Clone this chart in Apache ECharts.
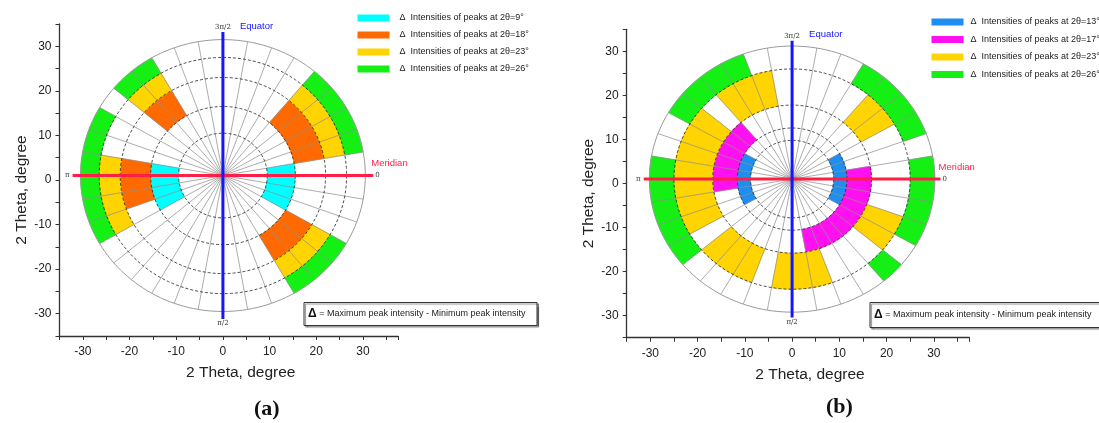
<!DOCTYPE html>
<html><head><meta charset="utf-8">
<script src="https://cdn.jsdelivr.net/npm/echarts@6/dist/echarts.min.js"></script>
<style>html,body{margin:0;padding:0;background:#fff}#c{width:1099px;height:423px}</style>
</head><body><div id="c"></div>
<script>
// ---------------- data ----------------
const axisTickLabels = [-30, -20, -10, 0, 10, 20, 30];
// ring radii (2θ, degree) bounding the four bands
const ringsA = [9.5, 15.5, 22, 26.5, 30.5];
const ringsB = [8.8, 11.6, 16.8, 25, 30.2];
// legend names
const namesA = ['Δ  Intensities of peaks at 2θ=9°', 'Δ  Intensities of peaks at 2θ=18°',
                'Δ  Intensities of peaks at 2θ=23°', 'Δ  Intensities of peaks at 2θ=26°'];
const namesB = ['Δ  Intensities of peaks at 2θ=13°', 'Δ  Intensities of peaks at 2θ=17°',
                'Δ  Intensities of peaks at 2θ=23°', 'Δ  Intensities of peaks at 2θ=26°'];
// start angle (deg, clockwise from meridian, π/2 at bottom) of each filled 10° cell
const cellsA9  = [150, 160, 170, 180, 350, 0, 10, 20];
const cellsA18 = [220, 230, 160, 170, 180, 310, 320, 330, 340, 30, 40, 50];
const cellsA23 = [220, 230, 150, 160, 170, 180, 310, 320, 330, 340, 30, 40, 50];
const cellsA26 = [220, 230, 150, 160, 170, 180, 190, 200, 310, 320, 330, 340, 30, 40, 50];
const cellsB13 = [150, 160, 170, 180, 190, 200, 330, 340, 350, 0, 10, 20];
const cellsB17 = [170, 180, 190, 200, 210, 220, 350, 0, 10, 20, 30, 40, 50, 60, 70];
const cellsB23 = [230, 240, 250, 150, 160, 170, 180, 190, 200, 210, 110, 120, 130, 70, 80, 90, 20, 30, 310, 320];
const cellsB26 = [210, 220, 230, 240, 140, 150, 160, 170, 180, 350, 0, 10, 20, 300, 310, 320, 330, 40];
const angleLabels = ['3π/2', 'π/2', 'π', '0'];
const equatorText = 'Equator', meridianText = 'Meridian';
const noteText = ' = Maximum peak intensity - Minimum peak intensity';
// ---------------------------------------

const colorsA = ['#00FFFF', '#FF6A00', '#FFD400', '#14F014'];
const colorsB = ['#1E8FF0', '#FF10F0', '#FFD400', '#14F014'];
const CX = 0, CY = 1;
const FONT = 'Liberation Sans, Arial, sans-serif';
const SMALLFONT = 'Liberation Sans, Arial, sans-serif';

function polarPt(r, deg) {
  const t = deg * Math.PI / 180;
  return [CX + r * Math.cos(t), CY - r * Math.sin(t)];
}
function cellRenderer(rings) {
  return function (params, api) {
    const a0 = api.value(0), b = api.value(1);
    const r0 = rings[b], r1 = rings[b + 1];
    const pts = [];
    for (let k = 0; k <= 10; k++) pts.push(api.coord(polarPt(r1, a0 + k)));
    for (let k = 10; k >= 0; k--) pts.push(api.coord(polarPt(r0, a0 + k)));
    const c = api.visual('color');
    return { type: 'polygon', shape: { points: pts }, style: { fill: c, stroke: c, lineWidth: 0.5 } };
  };
}
function frameRenderer(rings) {
  return function (params, api) {
    const children = [];
    const rOut = rings[rings.length - 1];
    for (let a = 0; a < 360; a += 10) {
      const p0 = api.coord(polarPt(0, a)), p1 = api.coord(polarPt(rOut, a));
      children.push({ type: 'line', shape: { x1: p0[0], y1: p0[1], x2: p1[0], y2: p1[1] },
        style: { stroke: '#8a8a8a', lineWidth: 0.7 } });
    }
    rings.forEach((r, i) => {
      const pts = [];
      for (let a = 0; a <= 360; a += 2) pts.push(api.coord(polarPt(r, a)));
      const outer = i === rings.length - 1;
      children.push({ type: 'polyline', shape: { points: pts },
        style: { stroke: outer ? '#9a9a9a' : '#222', lineWidth: outer ? 1 : 0.8,
                 lineDash: outer ? null : [3, 2], fill: null } });
    });
    return { type: 'group', children };
  };
}
function crossRenderer(len) {
  return function (params, api) {
    const L = api.coord([CX - len, CY]), R = api.coord([CX + len, CY]);
    const T = api.coord([CX, CY + len]), B = api.coord([CX, CY - len]);
    const sm = { fontSize: 7, fontFamily: 'DejaVu Serif, serif', fill: '#333' };
    return { type: 'group', children: [
      { type: 'line', shape: { x1: L[0], y1: L[1], x2: R[0], y2: R[1] }, style: { stroke: '#FF1F45', lineWidth: 3 } },
      { type: 'line', shape: { x1: T[0], y1: T[1], x2: B[0], y2: B[1] }, style: { stroke: '#1515FF', lineWidth: 3 } },
      { type: 'text', x: T[0], y: T[1] - 1, style: Object.assign({ text: angleLabels[0], align: 'center', verticalAlign: 'bottom' }, sm) },
      { type: 'text', x: B[0], y: B[1] + 1, style: Object.assign({ text: angleLabels[1], align: 'center', verticalAlign: 'top' }, sm) },
      { type: 'text', x: L[0] - 3, y: L[1], style: Object.assign({ text: angleLabels[2], align: 'right', verticalAlign: 'middle' }, sm) },
      { type: 'text', x: R[0] + 2, y: R[1], style: Object.assign({ text: angleLabels[3], align: 'left', verticalAlign: 'middle' }, sm) },
      { type: 'text', x: T[0] + 17, y: T[1] - 6, style: { text: equatorText, align: 'left', verticalAlign: 'middle', fontSize: 9.5, fontFamily: SMALLFONT, fill: '#1515FF' } },
      { type: 'text', x: R[0] - 2, y: R[1] - 12, style: { text: meridianText, align: 'left', verticalAlign: 'middle', fontSize: 9.5, fontFamily: SMALLFONT, fill: '#FF1F45' } }
    ] };
  };
}

function axisPair(gi) {
  const common = {
    type: 'value', gridIndex: gi, min: -35, interval: 5,
    axisLine: { onZero: false, lineStyle: { color: '#333', width: 1.3 } },
    axisTick: { length: 4, lineStyle: { color: '#333' } },
    splitLine: { show: false },
    axisLabel: { color: '#222', fontSize: 12, fontFamily: FONT,
      formatter: v => (axisTickLabels.indexOf(v) >= 0 ? String(v) : '') },
    nameLocation: 'middle', name: '2 Theta, degree',
  };
  const x = Object.assign({}, common, { max: 37.5, nameGap: 29,
    axisLabel: Object.assign({}, common.axisLabel, { margin: 10 }),
    nameTextStyle: { fontSize: 15.5, fontFamily: FONT, color: '#222', padding: [0, 0, 0, 24] } });
  const y = Object.assign({}, common, { max: 35, nameGap: 30,
    axisLabel: Object.assign({}, common.axisLabel, { margin: 8 }),
    nameTextStyle: { fontSize: 15.5, fontFamily: FONT, color: '#222', padding: [0, 20, 0, 0] } });
  return [x, y];
}
const [xa, ya] = axisPair(0), [xb, yb] = axisPair(1);

const series = [];
function addPanel(gi, rings, names, cellLists, colors, crossLen) {
  cellLists.forEach((cells, band) => {
    series.push({ type: 'custom', name: names[band], xAxisIndex: gi, yAxisIndex: gi, z: 2,
      itemStyle: { color: colors[band] }, renderItem: cellRenderer(rings),
      data: cells.map(a => [a, band]), encode: { x: -1, y: -1 }, clip: false, silent: true });
  });
  series.push({ type: 'custom', name: 'frame' + gi, xAxisIndex: gi, yAxisIndex: gi, z: 3,
    renderItem: frameRenderer(rings), data: [[CX, CY]], clip: false, silent: true });
  series.push({ type: 'custom', name: 'cross' + gi, xAxisIndex: gi, yAxisIndex: gi, z: 4,
    renderItem: crossRenderer(crossLen), data: [[CX, CY]], clip: false, silent: true });
}
addPanel(0, ringsA, namesA, [cellsA9, cellsA18, cellsA23, cellsA26], colorsA, 32.2);
addPanel(1, ringsB, namesB, [cellsB13, cellsB17, cellsB23, cellsB26], colorsB, 31.4);

const legendBase = { orient: 'vertical', itemWidth: 32, itemHeight: 7, icon: 'rect', selectedMode: false,
  textStyle: { fontSize: 9, fontFamily: SMALLFONT, color: '#222', lineHeight: 10 } };

function noteBox(x, y, w, h) {
  return { type: 'group', left: x, top: y, children: [
    { type: 'rect', shape: { x: 0, y: 0, width: w, height: h },
      style: { fill: '#fff', stroke: '#333', lineWidth: 1, shadowColor: 'rgba(0,0,0,0.45)', shadowOffsetX: 1.5, shadowOffsetY: 1.5, shadowBlur: 1 } },
    { type: 'text', x: 4, y: h / 2, style: { text: '{d|Δ}' + noteText, verticalAlign: 'middle',
      fontSize: 9, fontFamily: SMALLFONT, fill: '#222',
      rich: { d: { fontSize: 12, fontWeight: 'bold', fontFamily: FONT, fill: '#111' } } } }
  ] };
}

const chart = echarts.init(document.getElementById('c'), null, { renderer: 'canvas' });
chart.setOption({
  animation: false,
  backgroundColor: '#fff',
  grid: [
    { left: 59.5, top: 24, width: 338.5, height: 312 },
    { left: 626.7, top: 29.3, width: 342.6, height: 308.4 }
  ],
  xAxis: [xa, xb],
  yAxis: [ya, yb],
  legend: [
    Object.assign({}, legendBase, { data: namesA, left: 352.5, top: 8, itemGap: 7,
      textStyle: Object.assign({}, legendBase.textStyle, { padding: [0, 0, 0, 5] }) }),
    Object.assign({}, legendBase, { data: namesB, left: 926.5, top: 12, itemGap: 7.5,
      textStyle: Object.assign({}, legendBase.textStyle, { padding: [0, 0, 0, 2] }) })
  ],
  graphic: [
    noteBox(303.5, 302, 233, 23),
    noteBox(869.5, 302, 240, 25),
    { type: 'text', left: 254, top: 398, style: { text: '(a)', fontSize: 22, fontWeight: 'bold', fontFamily: 'Liberation Serif, Times New Roman, serif', fill: '#111' } },
    { type: 'text', left: 826, top: 396, style: { text: '(b)', fontSize: 22, fontWeight: 'bold', fontFamily: 'Liberation Serif, Times New Roman, serif', fill: '#111' } }
  ],
  series
});
</script></body></html>
